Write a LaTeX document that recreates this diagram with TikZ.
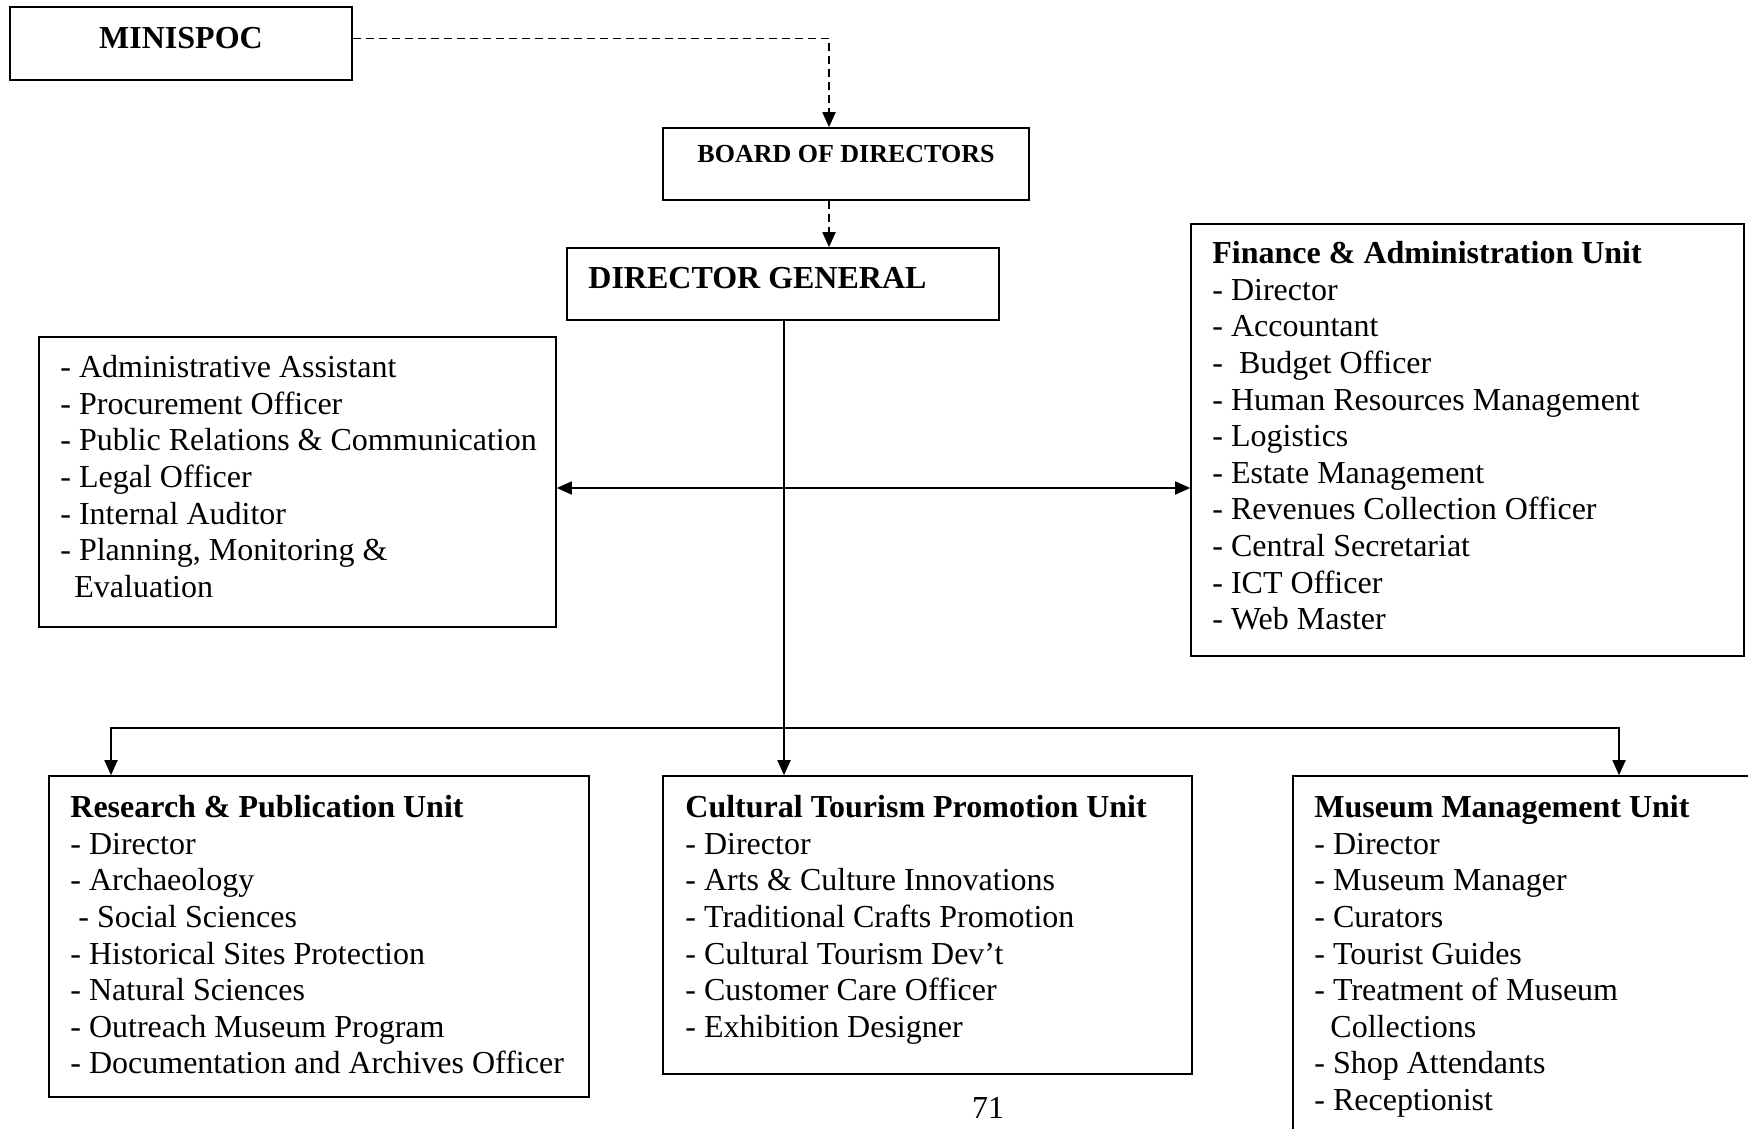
\documentclass[tikz,border=0pt]{standalone}
\usepackage{fontspec}
\setmainfont{Liberation Serif}
\usetikzlibrary{arrows.meta,fit}

\begin{document}
\begin{tikzpicture}[x=0.5pt,y=-0.5pt,
    frame/.style={draw, line width=0.8pt, inner sep=0pt},
    list/.style={anchor=north west, align=left, inner sep=0pt, font=\fontsize{16}{18.3}\selectfont},
    head/.style={inner sep=0pt, font=\fontsize{16}{18.3}\selectfont\bfseries},
    link/.style={line width=0.9pt, -{Triangle[length=7.5pt,width=6.5pt]}},
    twoway/.style={line width=0.9pt, {Triangle[length=7.5pt,width=6.5pt]}-{Triangle[length=7.5pt,width=6.5pt]}},
    dashlink/.style={link, dash pattern=on 4pt off 2.5pt}]
    \useasboundingbox (0,0) rectangle (1748,1128);
    \clip (0,0) rectangle (1748,1128);

    % Top of the chart
    \node[frame, fit={(10,7) (352,80)}] (minispoc) {};
    \node[head, anchor=base] (minispoctxt) at (181,49) {MINISPOC};
    \node[frame, fit={(663,128) (1029,200)}] (board) {};
    \node[head, anchor=base, font=\fontsize{13}{15}\selectfont\bfseries] (boardtxt) at (846,163) {BOARD OF DIRECTORS};
    \node[frame, fit={(567,248) (999,320)}] (dg) {};
    \node[head, anchor=base west] (dgtxt) at (588,289) {DIRECTOR GENERAL};

    % Staff of the Director General
    \node[frame, fit={(39,337) (556,627)}] (adminbox) {};
    \node[list] (admintxt) at (60,355) {- Administrative Assistant\\
        - Procurement Officer\\
        - Public Relations \& Communication\\
        - Legal Officer\\
        - Internal Auditor\\
        - Planning, Monitoring \&\\
        \hspace*{7pt}Evaluation};

    \node[frame, fit={(1191,224) (1744,656)}] (finbox) {};
    \node[list] (fintxt) at (1212,241) {\textbf{Finance \& Administration Unit}\\
        - Director\\
        - Accountant\\
        -~ Budget Officer\\
        - Human Resources Management\\
        - Logistics\\
        - Estate Management\\
        - Revenues Collection Officer\\
        - Central Secretariat\\
        - ICT Officer\\
        - Web Master};

    % Units
    \node[frame, fit={(49,776) (589,1097)}] (research) {};
    \node[list] (researchtxt) at (70,795) {\textbf{Research \& Publication Unit}\\
        - Director\\
        - Archaeology\\
        \hspace*{4pt}- Social Sciences\\
        - Historical Sites Protection\\
        - Natural Sciences\\
        - Outreach Museum Program\\
        - Documentation and Archives Officer};

    \node[frame, fit={(663,776) (1192,1074)}] (cultural) {};
    \node[list] (culturaltxt) at (685,795) {\textbf{Cultural Tourism Promotion Unit}\\
        - Director\\
        - Arts \& Culture Innovations\\
        - Traditional Crafts Promotion\\
        - Cultural Tourism Dev’t\\
        - Customer Care Officer\\
        - Exhibition Designer};

    \node[frame, fit={(1293,776) (1760,1140)}] (museum) {};
    \node[list] (museumtxt) at (1314,795) {\textbf{Museum Management Unit}\\
        - Director\\
        - Museum Manager\\
        - Curators\\
        - Tourist Guides\\
        - Treatment of Museum\\
        \hspace*{8pt}Collections\\
        - Shop Attendants\\
        - Receptionist};

    \node[list, anchor=base] (pagenum) at (988,1118) {71};

    % Arrows
    \coordinate (drop) at (829,0);
    \coordinate (spine) at (784,0);
    \coordinate (hub) at (784,488);
    \coordinate (bus) at (784,728);
    \coordinate (busl) at (111,728);
    \coordinate (busr) at (1619,728);
    \draw[dashlink] ([yshift=2.5pt]minispoc.east) -| (drop |- board.north);
    \draw[dashlink] (drop |- board.south) -- (drop |- dg.north);
    \draw[link] (spine |- dg.south) -- (spine |- cultural.north);
    \draw[twoway] (adminbox.east |- hub) -- (finbox.west |- hub);
    \draw[link] (bus) -- (busl) -- (busl |- research.north);
    \draw[link] (bus) -- (busr) -- (busr |- museum.north);
\end{tikzpicture}
\end{document}
